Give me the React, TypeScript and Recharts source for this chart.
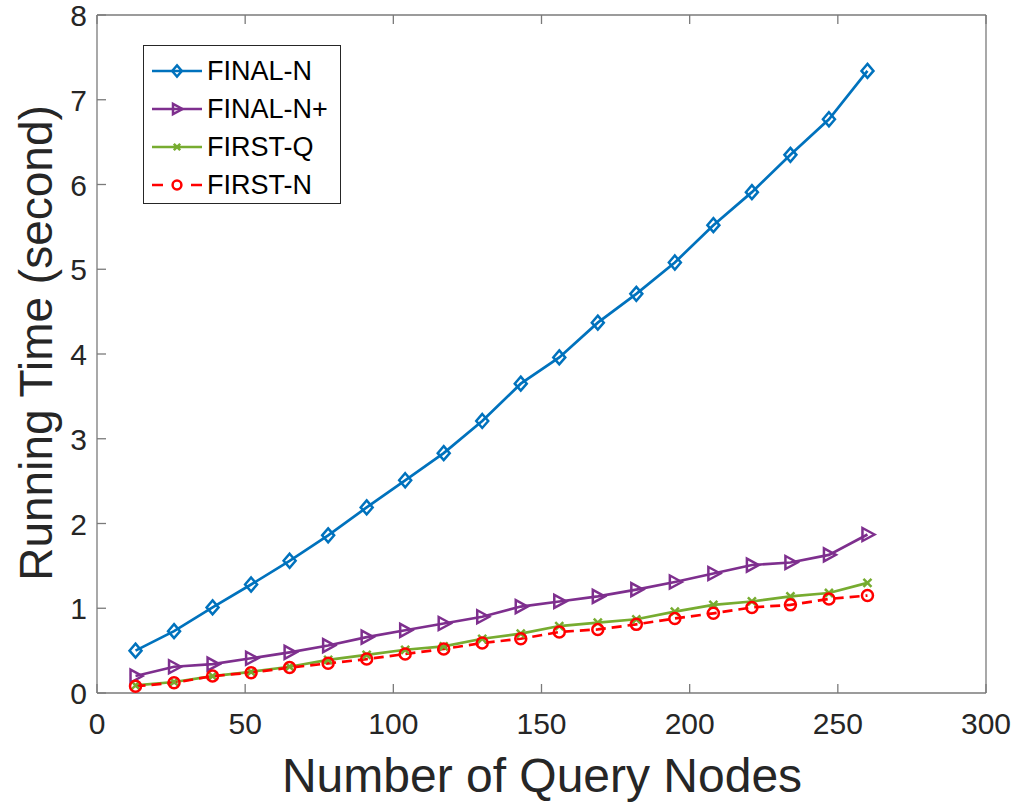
import React from 'react'
import { LineChart, Line, XAxis, YAxis } from 'recharts'

const queryNodes = [13, 26, 39, 52, 65, 78, 91, 104, 117, 130, 143, 156, 169, 182, 195, 208, 221, 234, 247, 260]
const finalN = [0.50, 0.73, 1.01, 1.28, 1.56, 1.86, 2.19, 2.51, 2.83, 3.21, 3.65, 3.96, 4.37, 4.71, 5.08, 5.52, 5.91, 6.35, 6.77, 7.34]
const finalNPlus = [0.20, 0.31, 0.34, 0.41, 0.48, 0.56, 0.66, 0.74, 0.82, 0.90, 1.02, 1.08, 1.14, 1.22, 1.31, 1.41, 1.51, 1.54, 1.63, 1.87]
const firstQ = [0.09, 0.13, 0.20, 0.25, 0.31, 0.39, 0.45, 0.51, 0.55, 0.64, 0.70, 0.79, 0.83, 0.87, 0.96, 1.04, 1.08, 1.14, 1.18, 1.30]
const firstN = [0.08, 0.12, 0.20, 0.24, 0.30, 0.35, 0.40, 0.46, 0.52, 0.59, 0.64, 0.72, 0.75, 0.81, 0.88, 0.94, 1.01, 1.04, 1.11, 1.15]

const xTicks = [0, 50, 100, 150, 200, 250, 300]
const yTicks = [0, 1, 2, 3, 4, 5, 6, 7, 8]

const FONT = '"Liberation Sans", Arial, Helvetica, sans-serif'
const AXIS = '#7a7a7a'
const TEXT = '#262626'
const TICK_LEN = 9

type Marker = 'diamond' | 'triangle' | 'cross' | 'circle'

const SERIES: { key: string; name: string; color: string; marker: Marker; dash?: string }[] = [
  { key: 'finalN', name: 'FINAL-N', color: '#0072BD', marker: 'diamond' },
  { key: 'finalNPlus', name: 'FINAL-N+', color: '#7E2F8E', marker: 'triangle' },
  { key: 'firstQ', name: 'FIRST-Q', color: '#77AC30', marker: 'cross' },
  { key: 'firstN', name: 'FIRST-N', color: '#FF0000', marker: 'circle', dash: '10 6' },
]

const data = queryNodes.map((n, i) => ({
  n,
  finalN: finalN[i],
  finalNPlus: finalNPlus[i],
  firstQ: firstQ[i],
  firstN: firstN[i],
}))

function MarkerShape({ cx, cy, color, marker, small }: { cx: number; cy: number; color: string; marker: Marker; small?: boolean }) {
  const k = small ? 0.8 : 1
  const common = { fill: 'none', stroke: color, strokeWidth: 2.5 }
  if (marker === 'diamond')
    return <path d={`M${cx},${cy - 7 * k} L${cx + 6 * k},${cy} L${cx},${cy + 7 * k} L${cx - 6 * k},${cy} Z`} {...common} />
  if (marker === 'triangle')
    return <path d={`M${cx + 7 * k},${cy} L${cx - 5 * k},${cy - 6.5 * k} L${cx - 5 * k},${cy + 6.5 * k} Z`} {...common} />
  if (marker === 'cross')
    return <path d={`M${cx - 4 * k},${cy - 4 * k} L${cx + 4 * k},${cy + 4 * k} M${cx - 4 * k},${cy + 4 * k} L${cx + 4 * k},${cy - 4 * k}`} {...common} />
  return <circle cx={cx} cy={cy} r={5.5 * k} {...common} />
}

function BottomTick(props: any) {
  const { x, y, payload } = props
  return (
    <g>
      <line x1={x} y1={y} x2={x} y2={y - TICK_LEN} stroke={AXIS} strokeWidth={1.3} />
      <text x={x} y={y + 41} textAnchor="middle" fontSize={30} fill={TEXT} fontFamily={FONT}>
        {payload.value}
      </text>
    </g>
  )
}

function TopTick(props: any) {
  const { x, y } = props
  return <line x1={x} y1={y} x2={x} y2={y + TICK_LEN} stroke={AXIS} strokeWidth={1.3} />
}

function LeftTick(props: any) {
  const { x, y, payload } = props
  return (
    <g>
      <line x1={x} y1={y} x2={x + TICK_LEN} y2={y} stroke={AXIS} strokeWidth={1.3} />
      <text x={x - 10} y={y + 11} textAnchor="end" fontSize={30} fill={TEXT} fontFamily={FONT}>
        {payload.value}
      </text>
    </g>
  )
}

function RightTick(props: any) {
  const { x, y } = props
  return <line x1={x} y1={y} x2={x - TICK_LEN} y2={y} stroke={AXIS} strokeWidth={1.3} />
}

function LegendBox() {
  return (
    <div style={{
      position: 'absolute', left: 143, top: 45,
      width: 198, height: 159, boxSizing: 'border-box',
      border: '1px solid #262626', background: '#fff',
      paddingTop: 6,
    }}>
      {SERIES.map(s => (
        <div key={s.key} style={{ display: 'flex', alignItems: 'center', height: 38 }}>
          <svg width={63} height={38} style={{ flex: 'none' }}>
            <line x1={8} y1={19} x2={58} y2={19} stroke={s.color} strokeWidth={2.5}
                  strokeDasharray={s.dash ? '11 28 11' : undefined} />
            <MarkerShape cx={33} cy={19} color={s.color} marker={s.marker} small />
          </svg>
          <span style={{ fontFamily: FONT, fontSize: 27, color: '#000', lineHeight: '38px' }}>{s.name}</span>
        </div>
      ))}
    </div>
  )
}

export default function App() {
  return (
    <div style={{ position: 'absolute', left: 0, top: 0, width: 1017, height: 803, background: '#fff' }}>
      <LineChart width={1017} height={803} data={data} margin={{ top: 14, right: 30, bottom: 0, left: 0 }}>
        <XAxis dataKey="n" type="number" domain={[0, 300]} ticks={xTicks} interval={0}
               height={110} stroke={AXIS} strokeWidth={1.3} tickLine={false} tickSize={0} tickMargin={0}
               tick={<BottomTick />}
               label={() => (
                 <text x={542} y={792} textAnchor="middle" fontSize={48} fill={TEXT} fontFamily={FONT}>
                   Number of Query Nodes
                 </text>
               )} />
        <XAxis xAxisId="top" orientation="top" dataKey="n" type="number" domain={[0, 300]} ticks={xTicks}
               interval={0} height={1} stroke={AXIS} strokeWidth={1.3} tickLine={false} tickSize={0}
               tickMargin={0} tick={<TopTick />} />
        <YAxis type="number" domain={[0, 8]} ticks={yTicks} interval={0} width={97}
               stroke={AXIS} strokeWidth={1.3} tickLine={false} tickSize={0} tickMargin={0}
               tick={<LeftTick />}
               label={() => (
                 <text x={52} y={343} transform="rotate(-90, 52, 343)" textAnchor="middle"
                       fontSize={46} fill={TEXT} fontFamily={FONT}>
                   Running Time (second)
                 </text>
               )} />
        <YAxis yAxisId="right" orientation="right" type="number" domain={[0, 8]} ticks={yTicks}
               interval={0} width={1} stroke={AXIS} strokeWidth={1.3} tickLine={false} tickSize={0}
               tickMargin={0} tick={<RightTick />} />
        {SERIES.map(s => (
          <Line key={s.key} type="linear" dataKey={s.key} name={s.name}
                stroke={s.color} strokeWidth={2.7} strokeDasharray={s.dash}
                isAnimationActive={false}
                dot={(p: any) => (
                  <MarkerShape key={`${s.key}-${p.index}`} cx={p.cx} cy={p.cy} color={s.color} marker={s.marker} />
                )}
                activeDot={false} />
        ))}
      </LineChart>
      <LegendBox />
    </div>
  )
}
